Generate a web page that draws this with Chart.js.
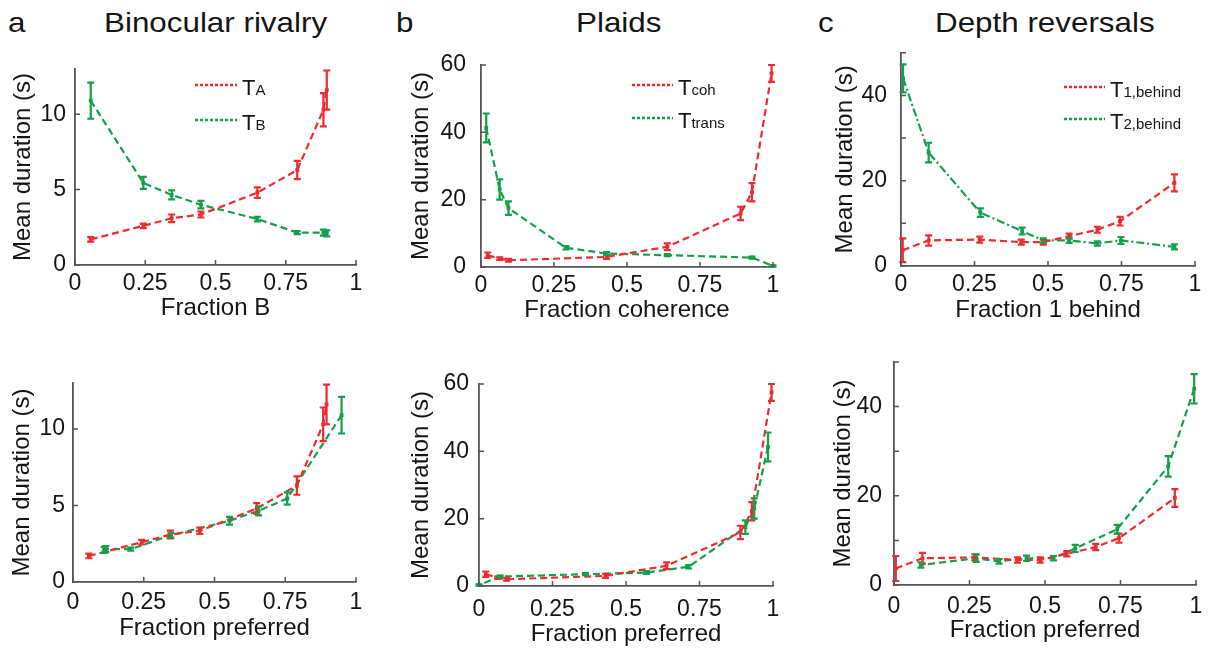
<!DOCTYPE html>
<html>
<head>
<meta charset="utf-8">
<script src="https://cdn.jsdelivr.net/npm/chart.js@4.4.0/dist/chart.umd.min.js"></script>
<style>
body { margin: 0; background: #fff; width: 1214px; height: 652px; position: relative; overflow: hidden; font-family: "Liberation Sans", Arial, sans-serif; }
canvas { position: absolute; }
.t { position: absolute; font-size: 28px; color: #151515; line-height: 1; white-space: nowrap; transform: scaleX(1.12); transform-origin: left center; }
</style>
</head>
<body>
<div class="t" style="left:8px;top:9px">a</div>
<div class="t" style="left:104px;top:9px">Binocular rivalry</div>
<div class="t" style="left:396px;top:9px">b</div>
<div class="t" style="left:576px;top:9px">Plaids</div>
<div class="t" style="left:818px;top:9px">c</div>
<div class="t" style="left:935px;top:9px">Depth reversals</div>

<script>
// tick values / labels
var xTicks = [0, 0.25, 0.5, 0.75, 1];
var xTickLabels = ['0', '0.25', '0.5', '0.75', '1'];
var yTicksRivalry = [0, 5, 10];
var yLabelsRivalry = ['0', '5', '10'];
var yTicksPlaids = [0, 20, 40, 60];
var yLabelsPlaids = ['0', '20', '40', '60'];
var yTicksDepth = [0, 10, 20, 30, 40, 50];
var yLabelsDepth = ['0', '', '20', '', '40', ''];

// a: binocular rivalry
var rivA_x = [0.056, 0.243, 0.344, 0.448, 0.649, 0.791, 0.884, 0.896];
var rivA_y = [1.7, 2.6, 3.1, 3.35, 4.8, 6.3, 10.3, 11.6];
var rivA_err = [0.15, 0.15, 0.25, 0.2, 0.35, 0.6, 1.1, 1.3];
var rivB_x = [0.056, 0.243, 0.344, 0.448, 0.649, 0.791, 0.884, 0.896];
var rivB_y = [10.9, 5.45, 4.65, 4.0, 3.05, 2.15, 2.15, 2.1];
var rivB_err = [1.2, 0.4, 0.3, 0.25, 0.15, 0.1, 0.2, 0.2];
var rivB_xPref = [0.949, 0.757, 0.656, 0.553, 0.346, 0.204, 0.116, 0.11];

// b: plaids
var coh_x = [0.023, 0.064, 0.094, 0.43, 0.638, 0.889, 0.928, 0.995];
var coh_y = [3.5, 2.5, 2.0, 3.0, 6.0, 15.9, 22.2, 57.5];
var coh_err = [0.8, 0.4, 0.4, 0.6, 1.0, 2.0, 2.7, 2.5];
var trans_x = [0.018, 0.064, 0.094, 0.291, 0.43, 0.638, 0.928, 1.0];
var trans_y = [41.3, 23.0, 17.5, 5.7, 4.0, 3.5, 2.8, 0.3];
var trans_err = [4.3, 3.0, 2.0, 0.5, 0.4, 0.3, 0.3, 0.2];
var trans_xPref = [0.983, 0.936, 0.906, 0.713, 0.57, 0.362, 0.072, 0.0];

// c: depth reversals
var behind1_x = [0.006, 0.094, 0.268, 0.409, 0.484, 0.572, 0.668, 0.745, 0.93];
var behind1_y = [3.7, 6.0, 6.2, 5.6, 5.6, 7.0, 8.5, 10.5, 19.5];
var behind1_err = [2.8, 1.2, 0.7, 0.6, 0.6, 0.6, 0.7, 1.0, 2.0];
var behind2_x = [0.007, 0.094, 0.27, 0.412, 0.484, 0.572, 0.668, 0.748, 0.93];
var behind2_y = [44.0, 26.6, 12.5, 8.2, 6.0, 6.0, 5.3, 6.0, 4.5];
var behind2_err = [3.3, 2.3, 1.0, 0.8, 0.5, 0.6, 0.5, 0.8, 0.6];
var behind2_xPref = [0.994, 0.908, 0.739, 0.6, 0.528, 0.439, 0.348, 0.272, 0.089];

var RED = '#ee2b2f';
var GREEN = '#12a04a';
var AXIS = '#555';
var FONT = '"Liberation Sans", Arial, sans-serif';

//draws the vertical error bars through the y scale
var errorBars = {
  id: 'errorBars',
  afterDatasetsDraw: function(chart) {
    var ctx = chart.ctx, ys = chart.scales.y;
    chart.data.datasets.forEach(function(ds, di) {
      var meta = chart.getDatasetMeta(di);
      ctx.save();
      ctx.strokeStyle = ds.borderColor;
      ctx.lineWidth = 2.2;
      ctx.setLineDash([]);
      ctx.beginPath();
      meta.data.forEach(function(pt, i) {
        var v = ds.data[i].y, e = ds.err[i];
        var y1 = ys.getPixelForValue(v + e), y2 = ys.getPixelForValue(v - e);
        ctx.moveTo(pt.x, y1); ctx.lineTo(pt.x, y2);
        ctx.moveTo(pt.x - 3.5, y1); ctx.lineTo(pt.x + 3.5, y1);
        ctx.moveTo(pt.x - 3.5, y2); ctx.lineTo(pt.x + 3.5, y2);
      });
      ctx.stroke();
      ctx.restore();
    });
  }
};

// matlab style ticks pointing into the plot
var inTicks = {
  id: 'inTicks',
  afterDraw: function(chart) {
    var ctx = chart.ctx, a = chart.chartArea, xs = chart.scales.x, ys = chart.scales.y;
    ctx.save();
    ctx.strokeStyle = AXIS;
    ctx.lineWidth = 1.5;
    ctx.beginPath();
    xs.ticks.forEach(function(t) {
      var p = xs.getPixelForValue(t.value);
      ctx.moveTo(p, a.bottom); ctx.lineTo(p, a.bottom - 5);
    });
    ys.ticks.forEach(function(t) {
      var p = ys.getPixelForValue(t.value);
      ctx.moveTo(a.left, p); ctx.lineTo(a.left + 5, p);
    });
    ctx.stroke();
    ctx.restore();
  }
};

// legend with subscripts
var subLegend = {
  id: 'subLegend',
  afterDraw: function(chart, args, opts) {
    if (!opts || !opts.items) return;
    var ctx = chart.ctx;
    ctx.save();
    chart.data.datasets.forEach(function(ds, i) {
      var y = opts.y + i * opts.gap;
      ctx.strokeStyle = ds.borderColor;
      ctx.lineWidth = 2.5;
      ctx.setLineDash([3, 2]);
      ctx.beginPath(); ctx.moveTo(opts.x1, y); ctx.lineTo(opts.x2, y); ctx.stroke();
      ctx.fillStyle = '#151515';
      ctx.textBaseline = 'alphabetic';
      ctx.font = '22px ' + FONT;
      ctx.fillText(opts.items[i][0], opts.x2 + 5, y + 10);
      var w = ctx.measureText(opts.items[i][0]).width;
      ctx.font = '15px ' + FONT;
      ctx.fillText(opts.items[i][1], opts.x2 + 5 + w, y + 10);
    });
    ctx.restore();
  }
};

function series(xs, ys, errs, color, dash) {
  return {
    data: xs.map(function(x, i) { return {x: x, y: ys[i]}; }),
    err: errs,
    borderColor: color,
    backgroundColor: color,
    borderWidth: 2.2,
    borderDash: dash,
    pointStyle: 'rect',
    pointRadius: 2.7,
    pointBorderWidth: 0,
    tension: 0,
    clip: false
  };
}

var Y_W = 75;

function panel(box, plot, o) {
  var cv = document.createElement('canvas');
  cv.width = box[2]; cv.height = box[3];
  cv.style.left = box[0] + 'px'; cv.style.top = box[1] + 'px';
  document.body.appendChild(cv);

  var xH = o.xTitleY - plot[3] + 14.4;
  var pad = {
    left: plot[0] - box[0] - Y_W,
    top: plot[1] - box[1],
    right: box[0] + box[2] - plot[2],
    bottom: box[1] + box[3] - plot[3] - xH
  };

  new Chart(cv.getContext('2d'), {
    type: 'line',
    data: { datasets: o.datasets },
    options: {
      responsive: false,
      animation: false,
      devicePixelRatio: 1,
      layout: { padding: pad },
      plugins: { legend: { display: false }, tooltip: { enabled: false }, subLegend: o.legend || {} },
      scales: {
        x: {
          type: 'linear', min: 0, max: 1,
          grid: { display: false, drawTicks: false },
          border: { display: true, color: AXIS, width: 1.8 },
          afterBuildTicks: function(s) { s.ticks = xTicks.map(function(v) { return {value: v}; }); },
          afterFit: function(s) { s.height = xH; },
          ticks: {
            color: '#151515', padding: o.xPad, maxRotation: 0, autoSkip: false,
            font: { family: FONT, size: 23 },
            callback: function(v) { return xTickLabels[xTicks.indexOf(v)]; }
          },
          title: { display: true, text: o.xTitle, color: '#151515', padding: 0, font: { family: FONT, size: 24 } }
        },
        y: {
          type: 'linear', min: 0, max: o.yMax,
          grid: { display: false, drawTicks: false },
          border: { display: true, color: AXIS, width: 1.8 },
          afterBuildTicks: function(s) { s.ticks = o.yTicks.map(function(v) { return {value: v}; }); },
          afterFit: function(s) { s.width = Y_W; },
          ticks: {
            color: '#151515', padding: o.yPad, autoSkip: false,
            font: { family: FONT, size: 23 },
            callback: function(v) { return o.yLabels[o.yTicks.indexOf(v)]; }
          },
          title: {
            display: true, text: 'Mean duration (s)', color: '#151515',
            padding: { top: o.yTitleX - 14.4 - (plot[0] - Y_W), bottom: 0 },
            font: { family: FONT, size: 24 }
          }
        }
      }
    },
    plugins: [errorBars, inTicks, subLegend]
  });
}

// top row
panel([-10, 25, 405, 305], [75, 69, 356, 265], {
  yMax: 13, yTicks: yTicksRivalry, yLabels: yLabelsRivalry, yPad: 9, xPad: 5,
  xTitle: 'Fraction B', xTitleY: 308, yTitleX: 23,
  datasets: [series(rivA_x, rivA_y, rivA_err, RED, [7, 4]), series(rivB_x, rivB_y, rivB_err, GREEN, [7, 4])],
  legend: { x1: 205, x2: 247, y: 60, gap: 35, items: [['T', 'A'], ['T', 'B']] }
});
panel([395, 25, 420, 305], [481, 65, 773, 267], {
  yMax: 60, yTicks: yTicksPlaids, yLabels: yLabelsPlaids, yPad: 15, xPad: 5,
  xTitle: 'Fraction coherence', xTitleY: 310, yTitleX: 421,
  datasets: [series(coh_x, coh_y, coh_err, RED, [7, 4]), series(trans_x, trans_y, trans_err, GREEN, [7, 4])],
  legend: { x1: 237, x2: 278, y: 60, gap: 33, items: [['T', 'coh'], ['T', 'trans']] }
});
panel([815, 25, 399, 305], [901, 43, 1195, 266], {
  yMax: 50, yTicks: yTicksDepth, yLabels: yLabelsDepth, yPad: 14, xPad: 5,
  xTitle: 'Fraction 1 behind', xTitleY: 310, yTitleX: 845,
  datasets: [series(behind1_x, behind1_y, behind1_err, RED, [7, 4]), series(behind2_x, behind2_y, behind2_err, GREEN, [8, 3, 2, 3])],
  legend: { x1: 249, x2: 290, y: 62, gap: 32, items: [['T', '1,behind'], ['T', '2,behind']] }
});

// bottom row
panel([-10, 335, 405, 317], [73, 383, 356, 582], {
  yMax: 13, yTicks: yTicksRivalry, yLabels: yLabelsRivalry, yPad: 8, xPad: 7,
  xTitle: 'Fraction preferred', xTitleY: 628, yTitleX: 22,
  datasets: [series(rivA_x, rivA_y, rivA_err, RED, [7, 4]), series(rivB_xPref, rivB_y, rivB_err, GREEN, [7, 4])]
});
panel([395, 335, 420, 317], [479, 384, 773, 586], {
  yMax: 60, yTicks: yTicksPlaids, yLabels: yLabelsPlaids, yPad: 10, xPad: 10,
  xTitle: 'Fraction preferred', xTitleY: 634, yTitleX: 421,
  datasets: [series(coh_x, coh_y, coh_err, RED, [7, 4]), series(trans_xPref, trans_y, trans_err, GREEN, [7, 4])]
});
panel([815, 335, 399, 317], [894, 362, 1196, 585], {
  yMax: 50, yTicks: yTicksDepth, yLabels: yLabelsDepth, yPad: 12, xPad: 8,
  xTitle: 'Fraction preferred', xTitleY: 630, yTitleX: 843,
  datasets: [series(behind1_x, behind1_y, behind1_err, RED, [7, 4]), series(behind2_xPref, behind2_y, behind2_err, GREEN, [7, 4])]
});
</script>
</body>
</html>
